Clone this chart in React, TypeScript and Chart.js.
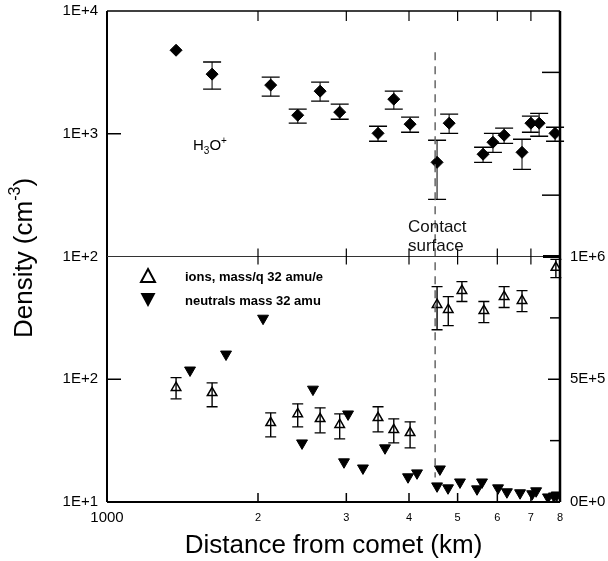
import React, { useEffect, useRef } from "react";
import { Chart, registerables } from "chart.js";

Chart.register(...registerables);

const FONT = '"Liberation Sans", Arial, Helvetica, sans-serif';

// H3O+ ion density (cm^-3) versus distance from the comet (km), with error limits
const h3oDistance = [1373, 1620, 2120, 2400, 2660, 2910, 3470, 3730, 4020, 4550, 4810, 5620, 5880, 6190, 6720, 7000, 7270, 7820];
const h3oDensity = [4790, 3060, 2490, 1416, 2223, 1500, 1008, 1914, 1197, 585, 1219, 681, 853, 973, 706, 1219, 1219, 1008];
const h3oUpper = [null, 3840, 2890, 1585, 2630, 1743, 1151, 2223, 1365, 885, 1443, 776, 1008, 1110, 902, 1390, 1468, 1130];
const h3oLower = [null, 2307, 2025, 1219, 1841, 1312, 869, 1585, 1029, 292, 1008, 585, 706, 836, 513, 1029, 954, 869];

// Ions of mass/q 32 amu/e (left, logarithmic axis of the lower panel)
const ionDistance = [1373, 1620, 2120, 2400, 2660, 2910, 3470, 3730, 4020, 4550, 4790, 5100, 5640, 6190, 6720, 7850];
const ionDensity = [85.3, 77.6, 44.2, 52.2, 47.6, 42.6, 48.5, 38.7, 36.6, 405, 369, 527, 362, 471, 437, 813];
const ionUpper = [103, 93.5, 53.3, 63.1, 58.5, 52.2, 59.7, 47.6, 45.0, 569, 471, 625, 430, 569, 527, 946];
const ionLower = [69.3, 59.7, 33.9, 40.9, 36.6, 32.7, 37.2, 30.3, 27.6, 253, 273, 430, 289, 384, 356, 674];

// Neutrals of mass 32 amu (right, linear axis of the lower panel)
const neutralDistance = [1464, 1727, 2047, 2448, 2574, 2968, 3024, 3238, 3583, 3982, 4150, 4550, 4610, 4785, 5055, 5466, 5593, 6020, 6270, 6660, 7040, 7170, 7570, 7780, 7880];
const neutralDensity = [537000, 602000, 748000, 240000, 459000, 163000, 358000, 138000, 220000, 102000, 118000, 65000, 134000, 57000, 81000, 53000, 81000, 57000, 41000, 37000, 33000, 45000, 20000, 24000, 28000];

// Axis ticks and labels
const xTickValues = [2000, 3000, 4000, 5000, 6000, 7000, 8000];
const xTickLabels = ["2", "3", "4", "5", "6", "7", "8"];
const topTickValues = [10000, 1000, 100];
const topTickLabels = ["1E+4", "1E+3", "1E+2"];
const ionTickValues = [100, 10];
const ionTickLabels = ["1E+2", "1E+1"];
const neutralTickValues = [1000000, 500000, 0];
const neutralTickLabels = ["1E+6", "5E+5", "0E+0"];
const neutralMinorTicks = [250000, 750000];
const topRightTicks = [3162, 316];

const contactSurfaceDistance = 4510;
const contactTop = 4620;
const contactBottom = 100000;

function drawFrame(chart: any) {
  const { ctx, chartArea: a, scales } = chart;
  const sx = scales.x;
  const yTop = scales.yTop;
  const yIon = scales.yIon;
  const yNeu = scales.yNeutral;
  const mid = yTop.bottom;

  ctx.save();
  ctx.strokeStyle = "#000";
  ctx.fillStyle = "#000";

  // contact surface
  const cx = sx.getPixelForValue(contactSurfaceDistance);
  ctx.save();
  ctx.strokeStyle = "#666";
  ctx.lineWidth = 1.5;
  ctx.setLineDash([8, 6]);
  ctx.beginPath();
  ctx.moveTo(cx, yTop.getPixelForValue(contactTop));
  ctx.lineTo(cx, yNeu.getPixelForValue(contactBottom));
  ctx.stroke();
  ctx.restore();

  // panel borders
  const line = (x1: number, y1: number, x2: number, y2: number, w: number, c = "#000") => {
    ctx.strokeStyle = c;
    ctx.lineWidth = w;
    ctx.beginPath();
    ctx.moveTo(x1, y1);
    ctx.lineTo(x2, y2);
    ctx.stroke();
  };
  line(a.left, a.top, a.right, a.top, 1.5);
  line(a.left, a.bottom, a.right, a.bottom, 2);
  line(a.left, a.top, a.left, a.bottom, 2);
  line(a.right, a.top, a.right, a.bottom, 2.5);
  line(a.left, mid, a.right, mid, 1, "#333");

  // x ticks on top, middle and bottom lines
  for (const v of xTickValues.slice(0, 6)) {
    const px = sx.getPixelForValue(v);
    line(px, a.top, px, a.top + 10, 1.2);
    line(px, mid - 8, px, mid + 8, 1.2);
    line(px, a.bottom - 9, px, a.bottom, 1.5);
  }

  // left ticks
  line(a.left, yTop.getPixelForValue(1000), a.left + 14, yTop.getPixelForValue(1000), 1.5);
  line(a.left, yIon.getPixelForValue(100), a.left + 14, yIon.getPixelForValue(100), 1.5);

  // right ticks
  for (const v of topRightTicks) {
    const py = yTop.getPixelForValue(v);
    line(a.right - 18, py, a.right, py, 1.5);
  }
  line(a.right - 17, yNeu.getPixelForValue(1000000), a.right, yNeu.getPixelForValue(1000000), 3);
  line(a.right - 12, yNeu.getPixelForValue(500000), a.right, yNeu.getPixelForValue(500000), 1.5);
  for (const v of neutralMinorTicks) {
    const py = yNeu.getPixelForValue(v);
    line(a.right - 10, py, a.right, py, 1.5);
  }

  // tick labels
  ctx.fillStyle = "#000";
  ctx.font = `15px ${FONT}`;
  ctx.textAlign = "right";
  ctx.textBaseline = "middle";
  topTickValues.forEach((v, i) => ctx.fillText(topTickLabels[i], a.left - 9, yTop.getPixelForValue(v)));
  ionTickValues.forEach((v, i) => ctx.fillText(ionTickLabels[i], a.left - 9, yIon.getPixelForValue(v)));
  ctx.textAlign = "left";
  neutralTickValues.forEach((v, i) => ctx.fillText(neutralTickLabels[i], a.right + 10, yNeu.getPixelForValue(v)));

  ctx.textAlign = "center";
  ctx.fillText("1000", sx.getPixelForValue(1000), a.bottom + 16);
  ctx.font = `11px ${FONT}`;
  xTickValues.forEach((v, i) => ctx.fillText(xTickLabels[i], sx.getPixelForValue(v), a.bottom + 16));

  // axis titles
  ctx.font = `26px ${FONT}`;
  ctx.fillText("Distance from comet (km)", (a.left + a.right) / 2, 546);

  ctx.save();
  ctx.translate(25, 258);
  ctx.rotate(-Math.PI / 2);
  const main = `26px ${FONT}`;
  const sup = `16px ${FONT}`;
  ctx.font = main;
  const w1 = ctx.measureText("Density (cm").width;
  const w3 = ctx.measureText(")").width;
  ctx.font = sup;
  const w2 = ctx.measureText("-3").width;
  let tx = -(w1 + w2 + w3) / 2;
  ctx.textAlign = "left";
  ctx.font = main;
  ctx.fillText("Density (cm", tx, 0);
  tx += w1;
  ctx.font = sup;
  ctx.fillText("-3", tx, -9);
  tx += w2;
  ctx.font = main;
  ctx.fillText(")", tx, 0);
  ctx.restore();

  // H3O+ label
  ctx.textAlign = "left";
  let hx = 193;
  const hy = 146;
  ctx.font = `15px ${FONT}`;
  ctx.fillText("H", hx, hy);
  hx += ctx.measureText("H").width;
  ctx.font = `10px ${FONT}`;
  ctx.fillText("3", hx, hy + 5);
  hx += ctx.measureText("3").width;
  ctx.font = `15px ${FONT}`;
  ctx.fillText("O", hx, hy);
  hx += ctx.measureText("O").width;
  ctx.font = `10px ${FONT}`;
  ctx.fillText("+", hx, hy - 5);

  // contact surface label
  ctx.fillStyle = "#111";
  ctx.font = `17px ${FONT}`;
  ctx.fillText("Contact", 408, 227);
  ctx.fillText("surface", 408, 246);

  // legend
  ctx.fillStyle = "#000";
  ctx.strokeStyle = "#000";
  ctx.lineWidth = 2;
  ctx.beginPath();
  ctx.moveTo(148, 269);
  ctx.lineTo(155, 282);
  ctx.lineTo(141, 282);
  ctx.closePath();
  ctx.stroke();
  ctx.beginPath();
  ctx.moveTo(140.5, 293);
  ctx.lineTo(155.5, 293);
  ctx.lineTo(148, 307);
  ctx.closePath();
  ctx.fill();
  ctx.font = `bold 13px ${FONT}`;
  ctx.fillText("ions, mass/q 32 amu/e", 185, 277);
  ctx.fillText("neutrals mass 32 amu", 185, 301);

  ctx.restore();
}

const errorBars = {
  id: "errorBars",
  beforeDatasetsDraw(chart: any) {
    const { ctx, scales } = chart;
    const sx = scales.x;
    const draw = (xs: number[], hi: (number | null)[], lo: (number | null)[], ys: any, cap: number, stem: string) => {
      xs.forEach((xv, i) => {
        const h = hi[i];
        const l = lo[i];
        if (h == null || l == null) return;
        const px = sx.getPixelForValue(xv);
        const pt = ys.getPixelForValue(h);
        const pb = ys.getPixelForValue(l);
        ctx.strokeStyle = stem;
        ctx.lineWidth = 1.4;
        ctx.beginPath();
        ctx.moveTo(px, pt);
        ctx.lineTo(px, pb);
        ctx.stroke();
        ctx.strokeStyle = "#000";
        ctx.lineWidth = 1.3;
        ctx.beginPath();
        ctx.moveTo(px - cap, pt);
        ctx.lineTo(px + cap, pt);
        ctx.moveTo(px - cap, pb);
        ctx.lineTo(px + cap, pb);
        ctx.stroke();
      });
    };
    ctx.save();
    draw(h3oDistance, h3oUpper, h3oLower, scales.yTop, 9, "#444");
    draw(ionDistance, ionUpper, ionLower, scales.yIon, 5.5, "#000");
    ctx.restore();
  },
};

const framePlugin = {
  id: "frame",
  afterDraw(chart: any) {
    drawFrame(chart);
  },
};

const whiteBg = {
  id: "whiteBg",
  beforeDraw(chart: any) {
    const { ctx, width, height } = chart;
    ctx.save();
    ctx.fillStyle = "#fff";
    ctx.fillRect(0, 0, width, height);
    ctx.restore();
  },
};

export default function App() {
  const ref = useRef<HTMLCanvasElement | null>(null);

  useEffect(() => {
    if (!ref.current) return;
    const chart = new Chart(ref.current, {
      type: "scatter",
      data: {
        datasets: [
          {
            label: "H3O+",
            data: h3oDistance.map((x, i) => ({ x, y: h3oDensity[i] })),
            xAxisID: "x",
            yAxisID: "yTop",
            pointStyle: "rectRot",
            pointRadius: 6,
            backgroundColor: "#000",
            borderColor: "#000",
            borderWidth: 1,
          },
          {
            label: "ions, mass/q 32 amu/e",
            data: ionDistance.map((x, i) => ({ x, y: ionDensity[i] })),
            xAxisID: "x",
            yAxisID: "yIon",
            pointStyle: "triangle",
            pointRadius: 5.5,
            backgroundColor: "rgba(255,255,255,0)",
            borderColor: "#000",
            borderWidth: 1.5,
          },
          {
            label: "neutrals mass 32 amu",
            data: neutralDistance.map((x, i) => ({ x, y: neutralDensity[i] })),
            xAxisID: "x",
            yAxisID: "yNeutral",
            pointStyle: "triangle",
            rotation: 180,
            pointRadius: 6.3,
            backgroundColor: "#000",
            borderColor: "#000",
            borderWidth: 1,
          },
        ],
      },
      options: {
        responsive: false,
        animation: false,
        events: [],
        layout: { padding: { left: 107, right: 48, top: 11, bottom: 59 } },
        plugins: { legend: { display: false }, tooltip: { enabled: false } },
        scales: {
          x: { type: "logarithmic", min: 1000, max: 8000, display: false },
          // left boxes are laid out in reverse order, so the lower panel comes first
          yIon: { type: "logarithmic", min: 10, max: 1000, position: "left", stack: "left", stackWeight: 1, display: false },
          yTop: { type: "logarithmic", min: 100, max: 10000, position: "left", stack: "left", stackWeight: 1, display: false },
          yTopRight: { type: "logarithmic", min: 100, max: 10000, position: "right", stack: "right", stackWeight: 1, display: false },
          yNeutral: { type: "linear", min: 0, max: 1000000, position: "right", stack: "right", stackWeight: 1, display: false },
        },
      },
      plugins: [whiteBg, errorBars, framePlugin],
    } as any);
    return () => chart.destroy();
  }, []);

  return (
    <div style={{ position: "absolute", left: 0, top: 0, width: 608, height: 561, background: "#fff" }}>
      <canvas ref={ref} width={608} height={561} style={{ width: 608, height: 561, display: "block" }} />
    </div>
  );
}
